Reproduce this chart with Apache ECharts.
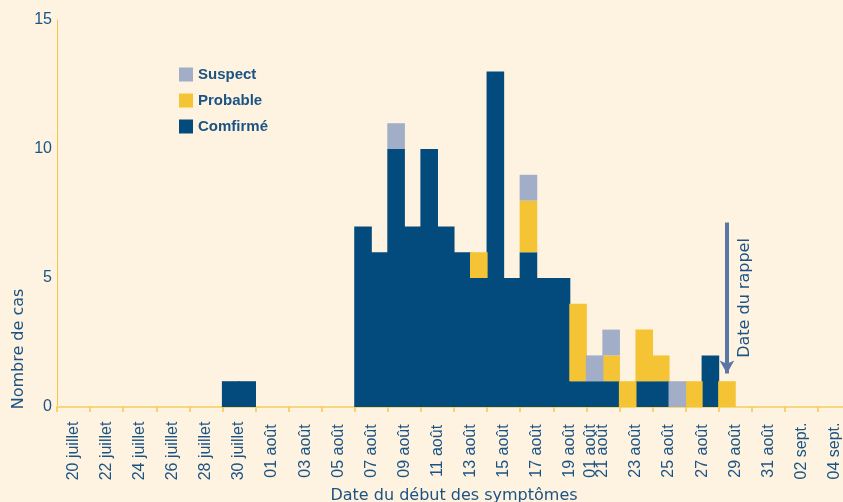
<!DOCTYPE html>
<html><head><meta charset="utf-8">
<script src="https://cdn.jsdelivr.net/npm/echarts@6/dist/echarts.min.js"></script>
<style>html,body{margin:0;padding:0;background:#fef3e0;}#c{width:843px;height:502px;}</style>
</head><body><div id="c"></div>
<script>
const days = ['20/07','21/07','22/07','23/07','24/07','25/07','26/07','27/07','28/07','29/07','30/07','31/07',
'01/08','02/08','03/08','04/08','05/08','06/08','07/08','08/08','09/08','10/08','11/08','12/08','13/08','14/08','15/08','16/08','17/08','18/08','19/08','20/08','21/08','22/08','23/08','24/08','25/08','26/08','27/08','28/08','29/08','30/08','31/08',
'01/09','02/09','03/09','04/09','05/09'];
const binLabels = ['20 juillet','22 juillet','24 juillet','26 juillet','28 juillet','30 juillet','01 août','03 août','05 août','07 août','09 août','11 août','13 août','15 août','17 août','19 août','21 août','23 août','25 août','27 août','29 août','31 août','02 sept.','04 sept.'];
const strayLabel = '01 août';
const strayHalfDay = 64;
const confirmed = [0,0,0,0,0,0,0,0,0,0,1,1, 0,0,0,0,0,0,7,6,10,7,10,7,6,5,13,5,6,5,5,1,1,1,0,1,1,0,0,2,0,0,0, 0,0,0,0,0];
const probable  = [0,0,0,0,0,0,0,0,0,0,0,0, 0,0,0,0,0,0,0,0,0,0,0,0,0,1,0,0,2,0,0,3,0,1,1,2,1,0,1,0,1,0,0, 0,0,0,0,0];
const suspect   = [0,0,0,0,0,0,0,0,0,0,0,0, 0,0,0,0,0,0,0,0,1,0,0,0,0,0,0,0,1,0,0,0,1,1,0,0,0,1,0,0,0,0,0, 0,0,0,0,0];
const recallDay = '29/08';
const recallFrom = 7.15, recallTo = 1.3;

const halfDays = [];
for (let i = 0; i < days.length * 2; i++) halfDays.push(i === strayHalfDay ? strayLabel : '');
const nz = arr => arr.map(v => (v === 0 ? '-' : v));

const txt = '#1b5385';
const axisYellow = '#f5c84a';
const cConf = '#034b7d', cProb = '#f5c435', cSusp = '#a2aec8';
const chart = echarts.init(document.getElementById('c'), null, {renderer:'canvas'});
const labelCommon = {rotate:90, align:'center', verticalAlign:'middle', margin:44, interval:0,
  color:txt, fontFamily:'Liberation Sans', fontSize:16};
const barCommon = {type:'bar', stack:'a', xAxisIndex:0, barWidth:17.6};
chart.setOption({
  backgroundColor:'#fef3e0',
  animation:false,
  grid:{left:57, right:-8, top:20, bottom:95, containLabel:false, outerBoundsMode:'none'},
  legend:{data:['Suspect','Probable','Comfirmé'], orient:'vertical', left:174, top:62,
    itemWidth:14, itemHeight:14, itemGap:11, icon:'rect',
    textStyle:{color:txt, fontWeight:'bold', fontFamily:'Liberation Sans', fontSize:15}},
  xAxis:[
    {type:'category', data:days, boundaryGap:true, show:false},
    {type:'category', data:binLabels, boundaryGap:true, position:'bottom',
      axisLine:{show:true, lineStyle:{color:'#f8d67c', width:2}},
      axisTick:{show:true, length:5, interval:0, lineStyle:{color:axisYellow, width:1.5}},
      axisLabel:labelCommon,
      name:'Date du début des symptômes', nameLocation:'middle', nameGap:80,
      nameTextStyle:{color:txt, fontFamily:'DejaVu Sans', fontSize:16}},
    {type:'category', data:halfDays, boundaryGap:true, position:'bottom',
      axisLine:{show:false}, axisTick:{show:false}, axisLabel:labelCommon}
  ],
  yAxis:{type:'value', min:0, max:15, interval:5,
    axisLine:{show:true, lineStyle:{color:axisYellow, width:1}},
    axisTick:{show:false}, splitLine:{show:false},
    axisLabel:{color:txt, fontFamily:'Liberation Sans', fontSize:16, margin:5}},
  series:[
    Object.assign({name:'Comfirmé', data:nz(confirmed), itemStyle:{color:cConf},
      markLine:{silent:true, symbol:['none','arrow'], symbolSize:[11,13],
        lineStyle:{color:'#5a76a6', width:4, type:'solid'}, label:{show:false},
        data:[[{coord:[recallDay, recallFrom]},{coord:[recallDay, recallTo]}]]}}, barCommon),
    Object.assign({name:'Probable', data:nz(probable), itemStyle:{color:cProb}}, barCommon),
    Object.assign({name:'Suspect', data:nz(suspect), itemStyle:{color:cSusp}}, barCommon)
  ],
  graphic:[
    {type:'text', x:19, y:349, rotation:Math.PI/2,
      style:{text:'Nombre de cas', fill:txt, font:'16px "DejaVu Sans"', align:'center', verticalAlign:'middle'}},
    {type:'text', x:745, y:298, rotation:Math.PI/2,
      style:{text:'Date du rappel', fill:txt, font:'16px "DejaVu Sans"', align:'center', verticalAlign:'middle'}}
  ]
});
</script></body></html>
